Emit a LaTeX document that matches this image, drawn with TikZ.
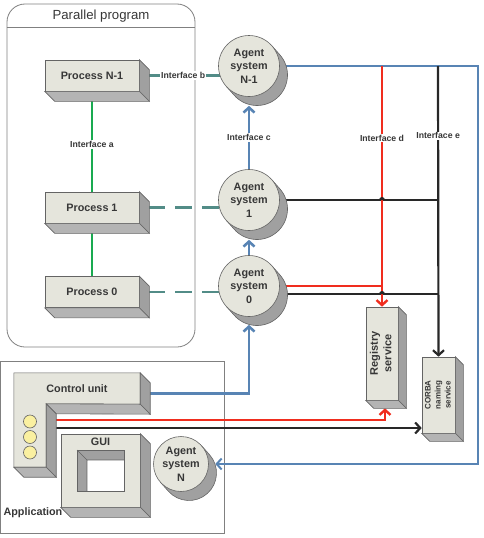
\documentclass[tikz,border=0pt]{standalone}
\usepackage{fontspec}
\setmainfont{Liberation Sans}
\usetikzlibrary{calc}
\usetikzlibrary{arrows.meta}
\usetikzlibrary{backgrounds}
\tikzset{>={Straight Barb[length=5pt,width=11pt]}}
\definecolor{faceclr}{RGB}{229,229,220}
\definecolor{sideclr}{RGB}{160,160,160}
\definecolor{bottomclr}{RGB}{180,180,180}
\definecolor{edgeclr}{RGB}{100,100,100}
\definecolor{textclr}{RGB}{55,55,55}
\definecolor{frameclr}{RGB}{128,128,128}
\definecolor{bluelink}{RGB}{88,132,180}
\definecolor{teallink}{RGB}{82,140,135}
\definecolor{greenlink}{RGB}{25,170,80}
\definecolor{redlink}{RGB}{240,45,30}
\definecolor{blacklink}{RGB}{40,40,40}
\definecolor{ledclr}{RGB}{250,240,160}
\tikzstyle{boxnode}=[draw=edgeclr,line width=0.6pt,fill=faceclr,shape=rectangle,inner sep=0pt,text=textclr,font=\bfseries\fontsize{10.8}{13}\selectfont]
\tikzstyle{sideface}=[draw=edgeclr,line width=0.6pt,fill=sideclr]
\tikzstyle{bottomface}=[draw=edgeclr,line width=0.6pt,fill=bottomclr]
\tikzstyle{agentnode}=[draw=edgeclr,line width=0.6pt,fill=faceclr,shape=circle,inner sep=0pt,align=center,text=textclr,font=\bfseries\fontsize{10.8}{13.5}\selectfont]
\tikzstyle{agentshade}=[draw=edgeclr,line width=0.6pt,fill=sideclr]
\tikzstyle{framenode}=[draw=frameclr,line width=0.8pt,shape=rectangle]
\tikzstyle{led}=[draw=edgeclr,line width=0.6pt,fill=ledclr,shape=circle,inner sep=0pt,minimum size=13pt]
\tikzstyle{ifacelabel}=[fill=white,inner sep=1pt,text=textclr,font=\bfseries\fontsize{8.7}{10}\selectfont]
\tikzstyle{greenline}=[line width=2.4pt,color=greenlink]
\tikzstyle{tealline}=[line width=2.4pt,color=teallink]
\tikzstyle{tealdash}=[line width=2.4pt,color=teallink,dash pattern=on 17pt off 10pt,dash phase=18pt]
\tikzstyle{bluearo}=[->,line width=2.6pt,color=bluelink]
\tikzstyle{blueloop}=[->,line width=2pt,color=bluelink]
\tikzstyle{redaro}=[->,line width=2.4pt,color=redlink]
\tikzstyle{redline}=[line width=2.4pt,color=redlink]
\tikzstyle{blackaro}=[->,line width=2.2pt,color=blacklink]
\tikzstyle{blackline}=[line width=2.2pt,color=blacklink]
% depth faces of a box node
\newcommand{\boxdepth}[2]{%
	\filldraw[sideface] (#1.north east) -- ++(#2,#2) -- ($(#1.south east)+(#2,#2)$) -- (#1.south east) -- cycle;
	\filldraw[bottomface] (#1.south west) -- (#1.south east) -- ($(#1.south east)+(#2,#2)$) -- ($(#1.south west)+(#2,#2)$) -- cycle;
}
% agent disc: name, position, radius, text
\newcommand{\agent}[4]{%
	\filldraw[agentshade] ($(#2)+(-41.6:#3)$) -- ++(8,9) arc[start angle=-41.6, end angle=138.4, radius=#3] -- ($(#2)+(138.4:#3)$) -- cycle;
	\node[agentnode, minimum size = #3*2pt] (#1) at (#2) {#4};
}

\begin{document}
\begin{tikzpicture}[x=1pt, y=-1pt]
	\useasboundingbox (0,0) rectangle (484,538);

	% Parallel program
	\begin{scope}
	\node[boxnode, minimum width = 94pt, minimum height = 31pt] (pn1) at (92, 75.5) {Process N-1};
	\boxdepth{pn1}{10}
	\node[boxnode, minimum width = 94pt, minimum height = 31pt] (p1) at (92, 207.5) {Process 1};
	\boxdepth{p1}{10}
	\node[boxnode, minimum width = 94pt, minimum height = 31pt] (p0) at (92, 292) {Process 0};
	\boxdepth{p0}{10}
	\end{scope}

	% Agent systems
	\agent{an1}{249,66}{30.5}{Agent\\system\\N-1}
	\agent{a1}{249,200}{30.5}{Agent\\system\\1}
	\agent{a0}{249,286}{30.5}{Agent\\system\\0}

	% Services
	\node[boxnode, minimum width = 32pt, minimum height = 93pt, font = \bfseries\fontsize{11}{13.5}\selectfont] (reg) at (382, 353.5) {\rotatebox{90}{\begin{tabular}{@{}c@{}}Registry\\service\end{tabular}}};
	\boxdepth{reg}{8}
	\node[boxnode, minimum width = 33pt, minimum height = 76pt, font = \bfseries\fontsize{8}{10}\selectfont] (corba) at (438.5, 395) {\rotatebox{90}{\begin{tabular}{@{}c@{}}CORBA\\naming\\service\end{tabular}}};
	\boxdepth{corba}{8}

	% Application
	\begin{scope}
	\node[inner sep = 0pt, minimum width = 126pt, minimum height = 31pt] (cu) at (77, 388.5) {};
	\node[inner sep = 0pt, minimum width = 32pt, minimum height = 63pt] (cuv) at (30, 435.5) {};
	\filldraw[draw = edgeclr, line width = 0.6pt, fill = faceclr] (cu.north west) -- (cu.north east) -- (cu.south east) -- (cuv.north east) -- (cuv.south east) -- (cuv.south west) -- cycle;
	\filldraw[sideface] (cu.north east) -- ++(10,10) -- ($(cu.south east)+(10,10)$) -- (cu.south east) -- cycle;
	\filldraw[bottomface] (cuv.north east) -- (cu.south east) -- ++(10,10) -- ($(cuv.north east)+(10,10)$) -- cycle;
	\boxdepth{cuv}{10}
	\node[text = textclr, font = \bfseries\fontsize{10.8}{13}\selectfont] (culabel) at (cu) {Control unit};
	\node[led] (led1) at (30, 421.5) {};
	\node[led] (led2) at (30, 437) {};
	\node[led] (led3) at (30, 452.5) {};
	\node[boxnode, minimum width = 79pt, minimum height = 73pt, label = {[text = textclr, font = \bfseries\fontsize{10.8}{13}\selectfont, anchor = north, yshift = -1pt]north:GUI}] (gui) at (100.5, 470.5) {};
	\boxdepth{gui}{10}
	\filldraw[sideface] (77, 450) rectangle (124, 491);
	\fill[white] (87, 460) rectangle (124, 491);
	\draw[edgeclr, line width = 0.6pt] (87, 491) -- (87, 460) -- (124, 460) (77, 450) -- (87, 460);
	\draw[edgeclr, line width = 0.6pt] (77, 450) rectangle (124, 491);
	\agent{ann}{181,464}{27.5}{Agent\\system\\N}
	\node[anchor = west, text = textclr, font = \bfseries\fontsize{10.8}{13}\selectfont] (applabel) at (0, 513) {Application};
	\end{scope}

	\begin{pgfonlayer}{background}
	% frames
	\node[framenode, rounded corners = 18pt, minimum width = 188pt, minimum height = 343pt] (par) at (101, 175.5) {};
	\draw[frameclr, line width = 0.8pt] ($(par.north west)+(0,24)$) -- ($(par.north east)+(0,24)$);
	\node[text = textclr, font = \fontsize{13.2}{15}\selectfont] (partitle) at (101, 16) {Parallel program};
	\node[framenode, minimum width = 223.5pt, minimum height = 172pt] (app) at (112.25, 447) {};

	% links inside the program
	\draw[greenline] (pn1) -- node[ifacelabel, pos = 0.53] (ia) {Interface a} (p1);
	\draw[greenline] (p1) -- (p0);
	\draw[tealline] (pn1.east) -- node[ifacelabel, pos = 0.4] (ib) {Interface b} (pn1.east -| an1);
	\draw[tealdash] (p1.east) -- (p1 -| a1);
	\draw[tealdash] (p0.east) -- (p0 -| a0);

	% links between agents
	\draw[bluearo] (a1.north) -- node[ifacelabel] (ic) {Interface c} ([yshift = -9pt]an1.south);
	\draw[bluearo] (a0.north) -- ([yshift = -9pt]a1.south);
	\draw[bluearo] ([yshift = -5pt]cu.east) -| ([yshift = -8pt]a0.south);
	\coordinate (loopne) at (478, 66);
	\draw[blueloop] (an1) -- (loopne) |- ([xshift = 6.5pt]ann.east);

	% links to the services
	\coordinate (dtop) at (382, 66);
	\coordinate (etop) at (438, 66);
	\coordinate (cured) at (54, 420);
	\coordinate (cublk) at (54, 428);
	\draw[blackline] (a1) -- (a1 -| etop);
	\draw[blackline] ($(a0)+(0, 8)$) coordinate (a0low) -- (a0low -| etop);
	\draw[blackaro] (etop) -- node[ifacelabel, pos = 0.24] (ie) {Interface e} (corba.north);
	\draw[blackaro] (cublk) -- (cublk -| corba.west);
	\draw[redline] (a0) -- (a0 -| dtop);
	\draw[redaro] (dtop) -- node[ifacelabel, pos = 0.3] (id) {Interface d} (reg.north);
	\draw[redaro] (cured) -| ([xshift = 3pt, yshift = -8pt]reg.south);
	\fill[blacklink] ($(a1 -| dtop)+(-3,0)$) arc[start angle = 180, end angle = 360, radius = 3] -- cycle;
	\fill[blacklink] ($(a0low -| dtop)+(-3,0)$) arc[start angle = 180, end angle = 360, radius = 3] -- cycle;
	\end{pgfonlayer}

\end{tikzpicture}
\end{document}
